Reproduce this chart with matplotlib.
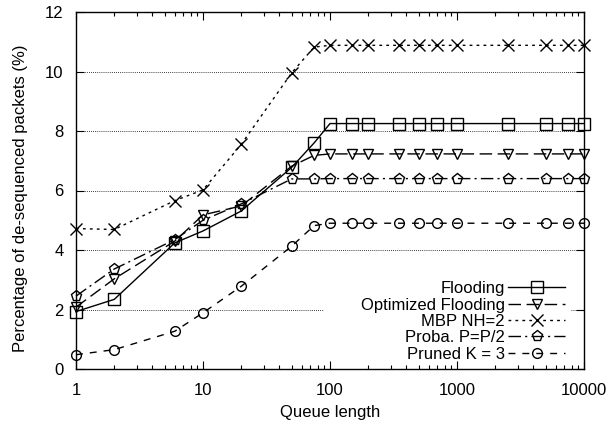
import matplotlib
matplotlib.use("Agg")
import matplotlib.pyplot as plt
from matplotlib.ticker import LogLocator, FixedLocator, NullFormatter, FixedFormatter

plt.rcParams['font.family'] = ['Liberation Sans', 'DejaVu Sans']

queue = [1, 2, 6, 10, 20, 50, 75, 100, 150, 200, 350, 500, 700, 1000, 2500, 5000, 7500, 10000]
flooding = [1.93, 2.34, 4.24, 4.64, 5.31, 6.78, 7.60, 8.25, 8.25, 8.25, 8.25, 8.25, 8.25, 8.25, 8.25, 8.25, 8.25, 8.25]
optimized = [2.08, 3.03, 4.30, 5.18, 5.48, 6.82, 7.18, 7.23, 7.23, 7.23, 7.23, 7.23, 7.23, 7.23, 7.23, 7.23, 7.23, 7.23]
mbp = [4.72, 4.69, 5.66, 6.02, 7.55, 9.96, 10.82, 10.88, 10.88, 10.88, 10.88, 10.88, 10.88, 10.88, 10.88, 10.88, 10.88, 10.88]
proba = [2.45, 3.36, 4.35, 5.00, 5.55, 6.39, 6.39, 6.40, 6.40, 6.40, 6.40, 6.40, 6.40, 6.40, 6.40, 6.40, 6.40, 6.40]
pruned = [0.48, 0.65, 1.27, 1.89, 2.78, 4.13, 4.82, 4.90, 4.90, 4.90, 4.90, 4.90, 4.90, 4.90, 4.90, 4.90, 4.90, 4.90]

labels = ["Flooding", "Optimized Flooding", "MBP NH=2", "Proba. P=P/2", "Pruned K = 3"]
yticks = [0, 2, 4, 6, 8, 10, 12]
xticks = [1, 10, 100, 1000, 10000]
xticklabels = ["1", "10", "100", "1000", "10000"]

fig = plt.figure(figsize=(6.11, 4.26), dpi=100)
ax = fig.add_axes([76/611, 57/426, 508/611, 357/426])

fs = 12
common = dict(color='black', lw=1.0, markerfacecolor='none', markeredgecolor='black',
              markeredgewidth=1.0, clip_on=False)
ax.plot(queue, flooding, ls='-', marker='s', ms=8, label=labels[0], **common)
ax.plot(queue, optimized, ls=(0, (9, 4)), marker='v', ms=7, label=labels[1], **common)
ax.plot(queue, mbp, ls=(0, (2, 3)), marker='x', ms=8, label=labels[2], **common)
ax.plot(queue, proba, ls=(0, (9, 3, 1.5, 3)), marker='p', ms=8, label=labels[3], **common)
ax.plot(queue, pruned, ls=(0, (5, 5)), marker='o', ms=7, label=labels[4], **common)

ax.set_xscale('log')
ax.set_xlim(1, 10000)
ax.set_ylim(0, 12)
ax.xaxis.set_major_locator(FixedLocator(xticks))
ax.xaxis.set_major_formatter(FixedFormatter(xticklabels))
ax.xaxis.set_minor_locator(LogLocator(base=10, subs=range(2, 10)))
ax.xaxis.set_minor_formatter(NullFormatter())
ax.set_yticks(yticks)
ax.set_yticklabels([str(v) for v in yticks])

ax.tick_params(which='both', direction='in', top=True, right=True, labelsize=fs, colors='black')
ax.tick_params(which='major', length=6, width=0.8)
ax.tick_params(axis='x', which='major', pad=10)
ax.tick_params(axis='y', which='major', pad=9)
ax.tick_params(which='minor', length=3, width=0.8)
for s in ax.spines.values():
    s.set_linewidth(1.0)

grid_style = dict(color='black', lw=0.6, ls=(0, (1, 1.5)), zorder=0)
for v in [4, 6, 8, 10]:
    ax.axhline(v, **grid_style)
ax.axhline(2, xmin=0, xmax=0.486, **grid_style)
ax.axhline(2, xmin=0.975, xmax=1.0, **grid_style)

ax.set_xlabel("Queue length", fontsize=fs, labelpad=5)
ax.set_ylabel("Percentage of de-sequenced packets (%)", fontsize=fs)
ax.yaxis.set_label_coords(-0.094, 0.479)

leg = ax.legend(loc='lower right', bbox_to_anchor=(0.9626, 0.021), markerfirst=False,
                frameon=False, fontsize=fs, handlelength=3.4, handletextpad=0.2,
                labelspacing=0.08, borderaxespad=0.0, borderpad=0.0)

fig.savefig("out.png", dpi=100)
